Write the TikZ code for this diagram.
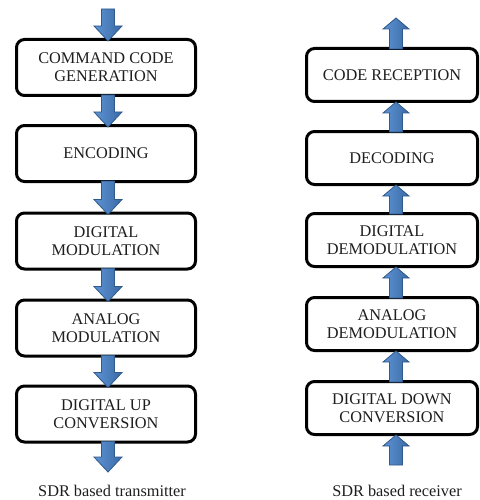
\documentclass[tikz,border=0pt]{standalone}
\usepackage{fontspec}
\setmainfont{Liberation Serif}
\usetikzlibrary{calc}
\definecolor{arrowlight}{HTML}{5E93D3}
\definecolor{arrowdark}{HTML}{3A6AA6}
\definecolor{arrowedge}{HTML}{2E5A8C}
\definecolor{inkgray}{HTML}{1E1E1E}
\def\flowlen{15pt}
\def\flowhead{14pt}
\begin{document}
\begin{tikzpicture}[x=1pt,y=-1pt,
  stage/.style={draw=black, line width=3pt, rounded corners=8pt, fill=white,
    align=center, font=\fontsize{16.3}{18}\selectfont, text=inkgray, inner sep=0pt},
  txstage/.style={stage, minimum width=179pt, minimum height=56pt},
  rxstage/.style={stage, minimum width=171pt, minimum height=53pt},
  caption/.style={font=\fontsize{16.3}{18}\selectfont, text=inkgray, anchor=base, inner sep=0pt},
  headlen/.code={\def\flowlen{#1}},
  headwidth/.code={\def\flowhead{#1}},
  % block arrow from the start point to the target point
  flow/.style={left color=arrowlight, right color=arrowdark, draw=arrowedge,
    line width=0.8pt, line join=miter,
    to path={
      ($(\tikztostart)!6.5pt!90:(\tikztotarget)$)
      -- ($($(\tikztotarget)!\flowlen!(\tikztostart)$)!6.5pt!-90:(\tikztostart)$)
      -- ($($(\tikztotarget)!\flowlen!(\tikztostart)$)!\flowhead!-90:(\tikztostart)$)
      -- (\tikztotarget)
      -- ($($(\tikztotarget)!\flowlen!(\tikztostart)$)!\flowhead!90:(\tikztostart)$)
      -- ($($(\tikztotarget)!\flowlen!(\tikztostart)$)!6.5pt!90:(\tikztostart)$)
      -- ($(\tikztostart)!6.5pt!-90:(\tikztotarget)$)
      -- cycle}},
  down/.style={flow, headlen=15pt, headwidth=14pt},
  up/.style={flow, headlen=11pt, headwidth=13pt}
]
\useasboundingbox (0,0) rectangle (479,500);

% transmitter chain
\node[txstage] (t1) at (106,67.5) {COMMAND CODE\\GENERATION};
\node[txstage] (t2) at (106,153.5) {ENCODING};
\node[txstage] (t3) at (106,241) {DIGITAL\\MODULATION};
\node[txstage] (t4) at (106,328) {ANALOG\\MODULATION};
\node[txstage] (t5) at (106,414) {DIGITAL UP\\CONVERSION};
\coordinate (tin) at (108,9);
\coordinate (tout) at (108,472);
\node[caption] (tcap) at (112,496) {SDR based transmitter};

% receiver chain
\node[rxstage] (r1) at (392,75) {CODE RECEPTION};
\node[rxstage] (r2) at (392,158) {DECODING};
\node[rxstage] (r3) at (392,240) {DIGITAL\\DEMODULATION};
\node[rxstage] (r4) at (392,324) {ANALOG\\DEMODULATION};
\node[rxstage] (r5) at (392,408) {DIGITAL DOWN\\CONVERSION};
\coordinate (rout) at (396,18);
\coordinate (rin) at (396,465);
\node[caption] (rcap) at (397,496) {SDR based receiver};

% transmitter arrows (downwards)
\draw[down] (tin) to ([xshift=2pt,yshift=-3pt]t1.north);
\draw[down] ([xshift=2pt,yshift=2pt]t1.south) to ([xshift=2pt,yshift=-3pt]t2.north);
\draw[down] ([xshift=2pt,yshift=2pt]t2.south) to ([xshift=2pt,yshift=-3pt]t3.north);
\draw[down] ([xshift=2pt,yshift=2pt]t3.south) to ([xshift=2pt,yshift=-3pt]t4.north);
\draw[down] ([xshift=2pt,yshift=2pt]t4.south) to ([xshift=2pt,yshift=-3pt]t5.north);
\draw[down] ([xshift=2pt,yshift=2pt]t5.south) to (tout);

% receiver arrows (upwards)
\draw[up] (rin) to ([xshift=4pt,yshift=1pt]r5.south);
\draw[up] ([xshift=4pt,yshift=-2pt]r5.north) to ([xshift=4pt,yshift=1pt]r4.south);
\draw[up] ([xshift=4pt,yshift=-2pt]r4.north) to ([xshift=4pt,yshift=1pt]r3.south);
\draw[up] ([xshift=4pt,yshift=-2pt]r3.north) to ([xshift=4pt,yshift=1pt]r2.south);
\draw[up] ([xshift=4pt,yshift=-2pt]r2.north) to ([xshift=4pt,yshift=1pt]r1.south);
\draw[up] ([xshift=4pt,yshift=-2pt]r1.north) to (rout);
\end{tikzpicture}
\end{document}
